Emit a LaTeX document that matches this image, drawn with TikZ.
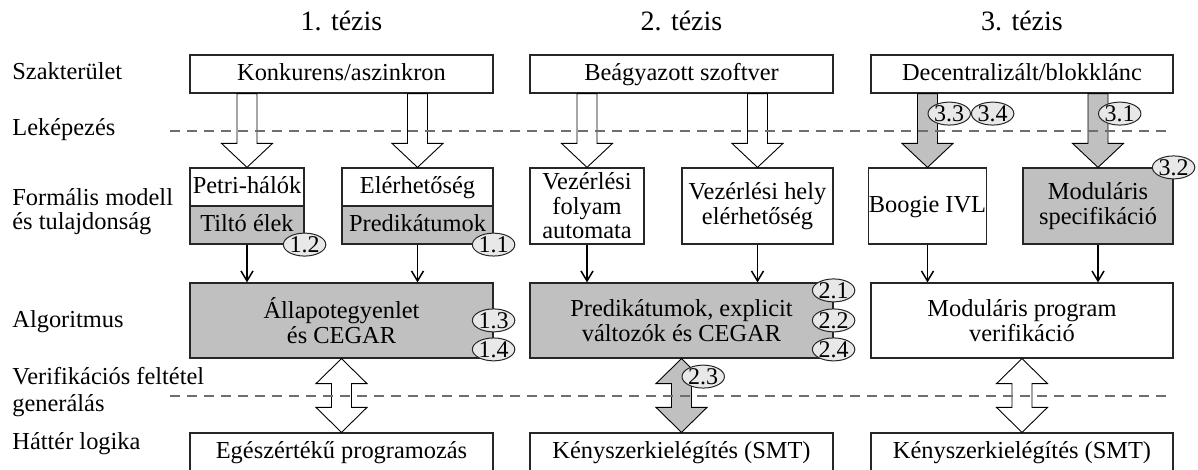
\documentclass[tikz,border=0pt]{standalone}
\usepackage{fontspec}
\setmainfont{Liberation Serif}
\usetikzlibrary{calc,arrows.meta,shapes.geometric}

\definecolor{boxgray}{HTML}{C0C0C0}
\definecolor{tagfill}{HTML}{E8E8E8}
\definecolor{rulegray}{HTML}{6E6E6E}

% hollow block arrow pointing down: style, tail point, tip point
\newcommand\fatdown[3]{%
  \draw[#1] ($(#2)+(-10,0)$) -- ($(#3)+(-10,-24)$) -- ($(#3)+(-25.5,-24)$) -- (#3)
    -- ($(#3)+(25.5,-24)$) -- ($(#3)+(10,-24)$) -- ($(#2)+(10,0)$) -- cycle;}
% hollow block arrow with two heads: style, upper tip, lower tip
\newcommand\fatboth[3]{%
  \draw[#1] (#2) -- ($(#2)+(25.5,25)$) -- ($(#2)+(10,25)$) -- ($(#3)+(10,-25)$)
    -- ($(#3)+(25.5,-25)$) -- (#3) -- ($(#3)+(-25.5,-25)$) -- ($(#3)+(-10,-25)$)
    -- ($(#2)+(-10,25)$) -- ($(#2)+(-25.5,25)$) -- cycle;}

\tikzset{
  txt/.style={font=\fontsize{12.2}{12.2}\selectfont},
  % rectangle spanning left, top, right, bottom (picture units)
  area/.style n args={4}{at={({(#1+#3)/2},{(#2+#4)/2})},
    minimum width={(#3-#1)*0.5pt}, minimum height={(#4-#2)*0.5pt}},
  box/.style={txt, draw=black!85, line width=0.6pt, inner sep=0pt, align=center},
  shaded/.style={box, fill=boxgray},
  single/.style={text height=8.8pt, text depth=2.7pt},
  rowlabel/.style={txt, anchor=mid west, align=left, inner sep=0pt},
  rowlabel2/.style={txt, anchor=west, align=left, inner sep=0pt},
  thesis/.style={font=\fontsize{14}{16}\selectfont, inner sep=0pt},
  tag/.style={ellipse, draw=black!85, line width=0.5pt, fill=tagfill, inner sep=0pt,
    minimum width=19.5pt, minimum height=10pt, font=\fontsize{12}{12}\selectfont},
  link/.style={draw=black, line width=0.75pt, -{Straight Barb[length=5pt,width=6pt]}},
  fat/.style={draw=black, line width=0.45pt, fill=white, line join=miter},
  fatgray/.style={fat, fill=boxgray},
  level/.style={draw=rulegray, line width=0.55pt, dash pattern=on 5pt off 3.5pt},
}

\begin{document}
\begin{tikzpicture}[x=0.5pt,y=-0.5pt]
\useasboundingbox (0,0) rectangle (1198,470);

% thesis headings
\node[thesis] (t1) at (341.5,21) {1. tézis};
\node[thesis] (t2) at (681.5,21) {2. tézis};
\node[thesis] (t3) at (1022,21) {3. tézis};

% row labels
\node[rowlabel] (l1) at (12,75) {Szakterület};
\node[rowlabel] (l2) at (12,131) {Leképezés};
\node[rowlabel2] (l3) at (12,211.5) {Formális modell\\és tulajdonság};
\node[rowlabel] (l4) at (12,323) {Algoritmus};
\node[rowlabel2,font=\fontsize{12.2}{13.5}\selectfont] (l5) at (12,392) {Verifikációs feltétel\\generálás};
\node[rowlabel] (l6) at (12,445) {Háttér logika};

% application domains
\node[box, single, area={190}{55}{493}{93}] (konk) {Konkurens/aszinkron};
\node[box, single, area={530}{55}{833}{93}] (beag) {Beágyazott szoftver};
\node[box, single, area={871}{55}{1173}{93}] (dec) {Decentralizált/blokklánc};

% formal models and properties
\node[box, single, area={190}{168}{304}{206}] (petri) {Petri-hálók};
\node[shaded, single, area={190}{206}{304}{244}] (tilto) {Tiltó élek};
\node[box, single, area={342}{168}{493}{206}] (eler) {Elérhetőség};
\node[shaded, single, area={342}{206}{493}{244}] (pred) {Predikátumok};
\node[box, area={530}{168}{644}{244}] (cfa) {Vezérlési\\folyam\\automata};
\node[box, area={682}{168}{833}{244}] (loc) {Vezérlési hely\\elérhetőség};
\node[box, single, area={871}{168}{984}{244}] (boogie) {Boogie IVL};
\node[shaded, area={1023}{168}{1173}{244}] (modspec) {Moduláris\\specifikáció};

% algorithms
\node[shaded, area={190}{283}{493}{358}] (alg1) {Állapotegyenlet\\és CEGAR};
\node[shaded, area={530}{283}{833}{358}] (alg2) {Predikátumok, explicit\\változók és CEGAR};
\node[box, area={871}{283}{1173}{358}] (alg3) {Moduláris program\\verifikáció};

% background logics
\node[box, single, area={190}{433}{493}{471}] (ilp) {Egészértékű programozás};
\node[box, single, area={530}{433}{833}{471}] (smt1) {Kényszerkielégítés (SMT)};
\node[box, single, area={871}{433}{1173}{471}] (smt2) {Kényszerkielégítés (SMT)};

% mapping arrows
\coordinate (m1) at (petri.north |- konk.south);
\coordinate (m2) at (eler.north |- konk.south);
\coordinate (m3) at (cfa.north |- beag.south);
\coordinate (m4) at (loc.north |- beag.south);
\coordinate (m5) at (boogie.north |- dec.south);
\coordinate (m6) at (modspec.north |- dec.south);
\fatdown{fat}{m1}{petri.north}
\fatdown{fat}{m2}{eler.north}
\fatdown{fat}{m3}{cfa.north}
\fatdown{fat}{m4}{loc.north}
\fatdown{fatgray}{m5}{boogie.north}
\fatdown{fatgray}{m6}{modspec.north}

% model to algorithm
\draw[link] (tilto.south) -- (tilto.south |- alg1.north);
\draw[link] (pred.south) -- (pred.south |- alg1.north);
\draw[link] (cfa.south) -- (cfa.south |- alg2.north);
\draw[link] (loc.south) -- (loc.south |- alg2.north);
\draw[link] (boogie.south) -- (boogie.south |- alg3.north);
\draw[link] (modspec.south) -- (modspec.south |- alg3.north);

% verification condition generation
\fatboth{fat}{alg1.south}{ilp.north}
\fatboth{fatgray}{alg2.south}{smt1.north}
\fatboth{fat}{alg3.south}{smt2.north}

% level separators
\coordinate (r1a) at (170,131);
\coordinate (r1b) at (1168,131);
\coordinate (r2a) at (170,396);
\coordinate (r2b) at (1168,396);
\draw[level] (r1a) -- (r1b);
\draw[level] (r2a) -- (r2b);

% contribution tags
\node[tag] (q12) at (tilto.south east) {1.2};
\node[tag] (q11) at (pred.south east) {1.1};
\node[tag] (q13) at ($(alg1.north east)+(0,38)$) {1.3};
\node[tag] (q14) at ($(alg1.north east)+(0,67)$) {1.4};
\node[tag] (q21) at ($(alg2.north east)+(0,8)$) {2.1};
\node[tag] (q22) at ($(alg2.north east)+(0,38)$) {2.2};
\node[tag] (q24) at ($(alg2.north east)+(0,67)$) {2.4};
\node[tag, anchor=west] (q23) at ($(alg2.south)+(0,18)$) {2.3};
\node[tag, anchor=west] (q33) at ($(m5)+(0,20)$) {3.3};
\node[tag, anchor=west] (q34) at (q33.east) {3.4};
\node[tag, anchor=west] (q31) at ($(m6)+(0,20)$) {3.1};
\node[tag] (q32) at (modspec.north east) {3.2};
\end{tikzpicture}
\end{document}
